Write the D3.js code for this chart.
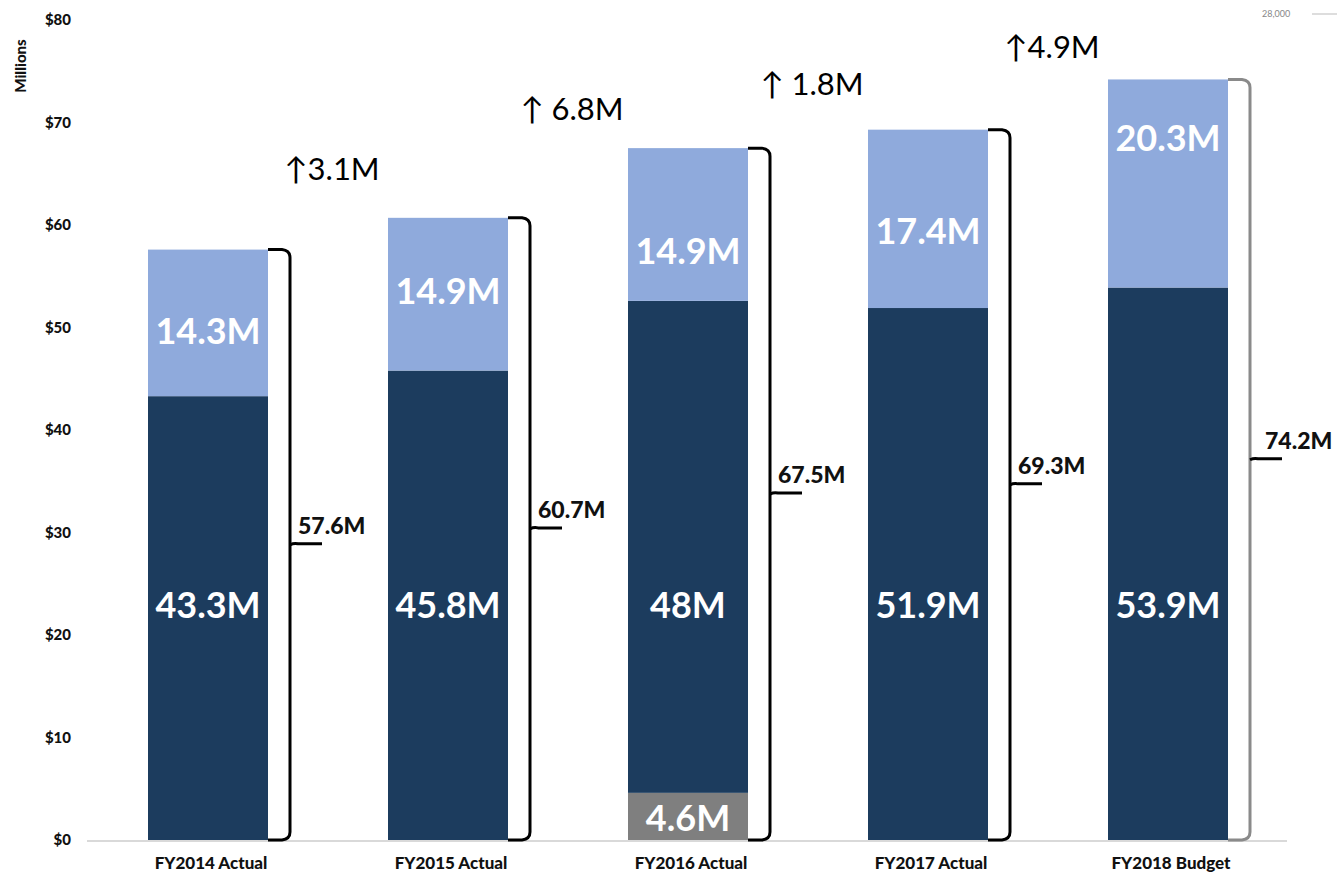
<!DOCTYPE html>
<html>
<head>
<meta charset="utf-8">
<script src="https://cdn.jsdelivr.net/npm/d3@7"></script>
<style>
  body { margin: 0; background: #fff; }
  svg { display: block; font-family: Lato, "Open Sans", sans-serif; }
</style>
</head>
<body>
<div id="chart"></div>
<script>
var categories    = ['FY2014 Actual', 'FY2015 Actual', 'FY2016 Actual', 'FY2017 Actual', 'FY2018 Budget'];
var otherVals     = [0, 0, 4.6, 0, 0];
var baseVals      = [43.3, 45.8, 48, 51.9, 53.9];
var topVals       = [14.3, 14.9, 14.9, 17.4, 20.3];
var totals        = [57.6, 60.7, 67.5, 69.3, 74.2];
var changes       = ['↑3.1M', '↑ 6.8M', '↑ 1.8M', '↑4.9M'];
var changeLabelAt = [65.6, 71.4, 73.9, 77.5];
var topLabelAt    = [49.8, 53.7, 57.6, 59.5, 68.6];
var yTicks        = [0, 10, 20, 30, 40, 50, 60, 70, 80];

var chart_width  = 1337;
var chart_height = 882;

var svg = d3.select('#chart')
  .append('svg')
  .attr('width', chart_width)
  .attr('height', chart_height);

var x_scale = d3.scaleBand()
  .domain(categories)
  .range([88, 1288])
  .paddingInner(0.5)
  .paddingOuter(0.25);

var y_scale = d3.scaleLinear()
  .domain([0, 80])
  .range([840, 20]);

var bw = x_scale.bandwidth();

// stacked rows
var rows = categories.map(function(c, i) {
  return {cat: c, other: otherVals[i], base: baseVals[i], top: topVals[i]};
});
var stack = d3.stack().keys(['other', 'base', 'top'])(rows);
var colors = {other: '#7f7f7f', base: '#1c3c5e', top: '#8faadc'};

// baseline
svg.append('line')
  .attr('x1', 87).attr('x2', 1287)
  .attr('y1', y_scale(0) + 1).attr('y2', y_scale(0) + 1)
  .attr('stroke', '#d9d9d9')
  .attr('stroke-width', 2);

// y axis labels
var yAxis = d3.axisLeft(y_scale)
  .tickValues(yTicks)
  .tickSize(0)
  .tickPadding(0)
  .tickFormat(function(d) { return '$' + d; });

svg.append('g')
  .attr('transform', 'translate(71,0)')
  .call(yAxis)
  .call(function(g) { g.select('.domain').remove(); })
  .selectAll('text')
  .attr('font-family', 'Lato, sans-serif')
  .attr('font-size', 15)
  .attr('font-weight', 900)
  .attr('fill', '#111');

svg.append('text')
  .attr('transform', 'translate(26,66) rotate(-90)')
  .attr('text-anchor', 'middle')
  .attr('font-size', 15)
  .attr('font-weight', 900)
  .attr('fill', '#111')
  .text('Millions');

// x axis labels
var xAxis = d3.axisBottom(x_scale).tickSize(0).tickPadding(0);
svg.append('g')
  .attr('transform', 'translate(3,' + 857 + ')')
  .call(xAxis)
  .call(function(g) { g.select('.domain').remove(); })
  .selectAll('text')
  .attr('font-family', 'Lato, sans-serif')
  .attr('font-size', 17)
  .attr('font-weight', 900)
  .attr('fill', '#111');

// bars
svg.selectAll('g.layer')
  .data(stack)
  .enter()
  .append('g')
  .attr('class', 'layer')
  .attr('fill', function(d) { return colors[d.key]; })
  .selectAll('rect')
  .data(function(d) { return d; })
  .enter()
  .append('rect')
  .attr('x', function(d) { return x_scale(d.data.cat); })
  .attr('y', function(d) { return y_scale(d[1]); })
  .attr('width', bw)
  .attr('height', function(d) { return y_scale(d[0]) - y_scale(d[1]); });

// labels inside bars
var barText = svg.append('g')
  .attr('fill', '#fff')
  .attr('font-weight', 700)
  .attr('font-size', 36)
  .attr('text-anchor', 'middle')
  .attr('dominant-baseline', 'central');

rows.forEach(function(r, i) {
  var cx = x_scale(r.cat) + bw / 2;
  barText.append('text')
    .attr('x', cx).attr('y', y_scale(topLabelAt[i]))
    .text(r.top + 'M');
  barText.append('text')
    .attr('x', cx).attr('y', y_scale(23))
    .text(r.base + 'M');
  if (r.other > 0) {
    barText.append('text')
      .attr('x', cx).attr('y', y_scale(r.other / 2) + 1)
      .text(r.other + 'M');
  }
});

// braces with totals
rows.forEach(function(r, i) {
  var xr = x_scale(r.cat) + bw;
  var bx = xr + 22;
  var top = y_scale(totals[i]);
  var bot = y_scale(0);
  var mid = y_scale(totals[i] / 2);
  var col = i == 4 ? '#8a8a8a' : '#000';
  var path = d3.path();
  path.moveTo(xr, top);
  path.lineTo(bx - 8, top);
  path.quadraticCurveTo(bx, top + 1, bx, top + 8);
  path.lineTo(bx, bot - 8);
  path.quadraticCurveTo(bx, bot - 1, bx - 8, bot);
  path.lineTo(xr, bot);
  svg.append('path')
    .attr('d', path.toString())
    .attr('fill', 'none')
    .attr('stroke', col)
    .attr('stroke-width', 3);
  svg.append('path')
    .attr('d', 'M' + bx + ',' + mid + 'Q' + (bx + 4) + ',' + (mid - 2) + ' ' + (bx + 8) + ',' + (mid - 1) + 'L' + (bx + 32) + ',' + (mid - 1))
    .attr('fill', 'none')
    .attr('stroke', '#000')
    .attr('stroke-width', 3);
  svg.append('text')
    .attr('x', bx + (i == 4 ? 15 : 8))
    .attr('y', mid - 11)
    .attr('font-size', 23)
    .attr('font-weight', 900)
    .attr('fill', '#111')
    .text(totals[i] + 'M');
});

// change annotations between bars
changes.forEach(function(t, i) {
  var cx = (x_scale(categories[i]) + bw + x_scale(categories[i + 1])) / 2 + 4;
  svg.append('text')
    .attr('x', cx)
    .attr('y', y_scale(changeLabelAt[i]))
    .attr('text-anchor', 'middle')
    .attr('dominant-baseline', 'central')
    .attr('font-size', 31)
    .attr('fill', '#000')
    .text(t);
});

// stray axis remnant top right
svg.append('text')
  .attr('x', 1262).attr('y', 17)
  .attr('font-size', 9)
  .attr('fill', '#888')
  .text('28,000');
svg.append('line')
  .attr('x1', 1312).attr('x2', 1337)
  .attr('y1', 14).attr('y2', 14)
  .attr('stroke', '#ddd')
  .attr('stroke-width', 2);
</script>
</body>
</html>
